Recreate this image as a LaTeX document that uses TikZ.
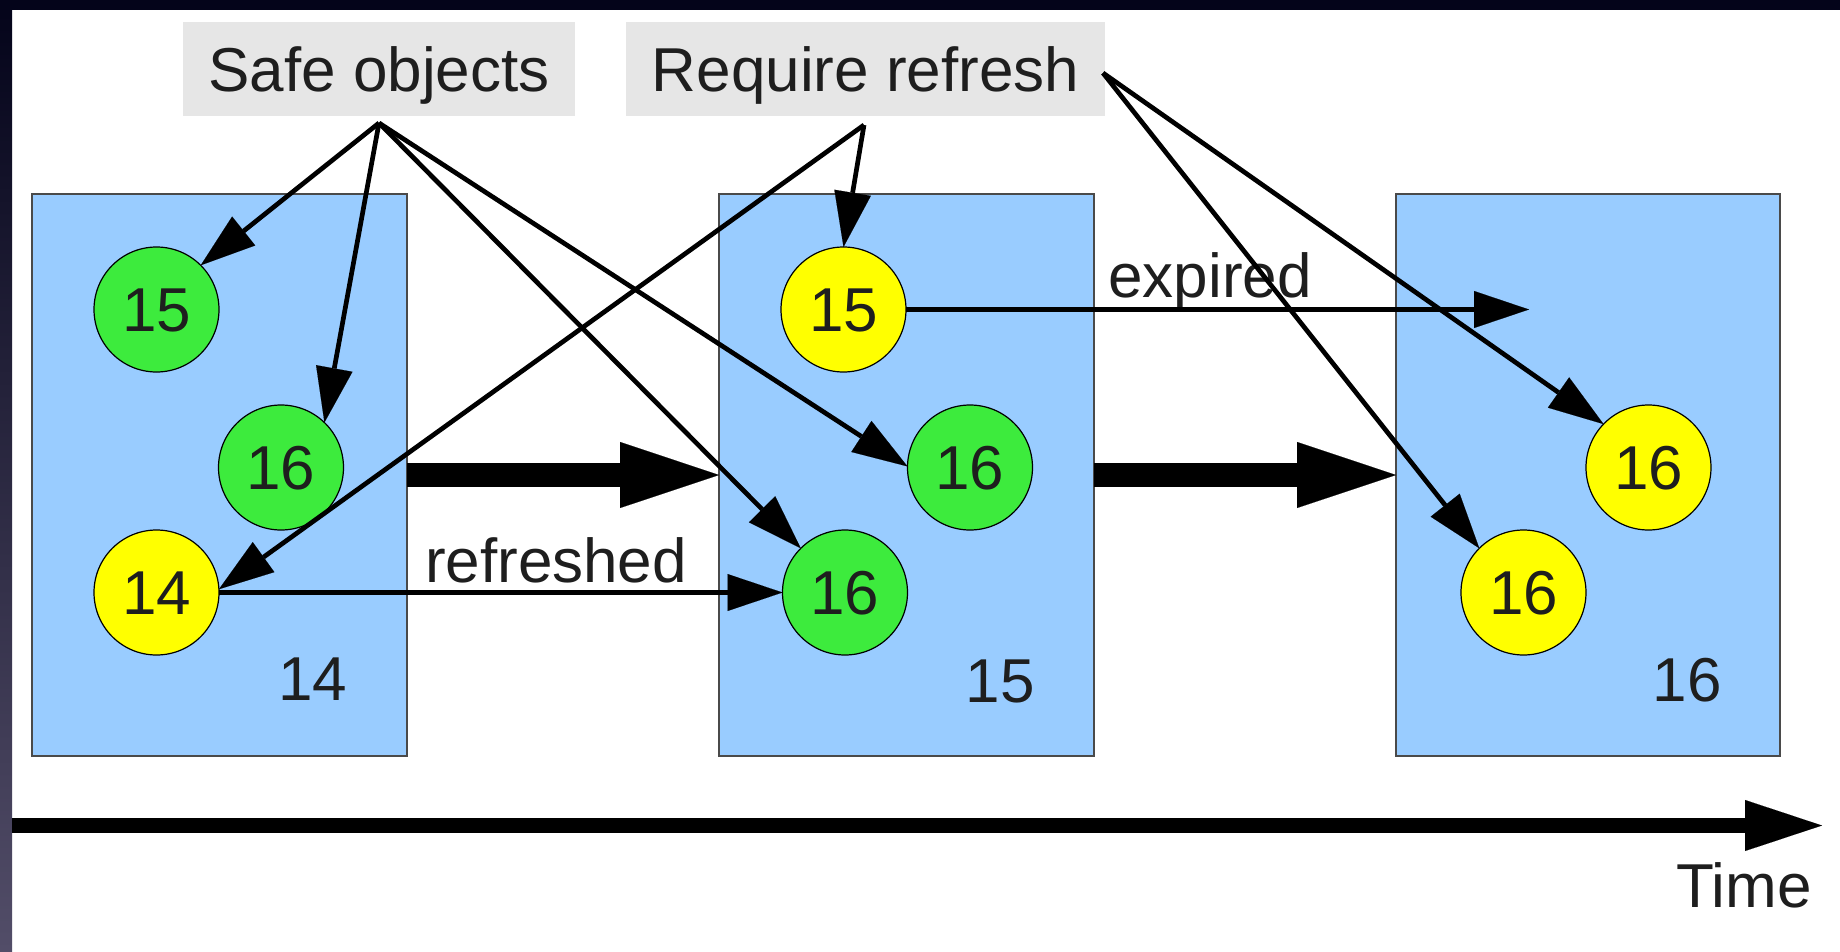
\documentclass[tikz,border=0pt]{standalone}
\usepackage{fontspec}
\setmainfont{Liberation Sans}
\usetikzlibrary{arrows.meta}
\definecolor{boxgray}{HTML}{E6E6E6}
\definecolor{rectblue}{HTML}{99CCFF}
\definecolor{objgreen}{HTML}{3DEB3D}
\definecolor{objyellow}{HTML}{FFFF00}
\definecolor{txt}{HTML}{1E1E1E}
\definecolor{frametop}{HTML}{04041A}
\definecolor{framebot}{HTML}{524D68}
\definecolor{rectline}{HTML}{4A4A4A}
\begin{document}
\begin{tikzpicture}[x=1pt,y=-1pt,
  every node/.style={font=\fontsize{62}{70}\selectfont, text=txt, inner sep=0pt, outer sep=0pt, text height=44pt, text depth=0pt},
  titlebox/.style={fill=boxgray, minimum height=94pt},
  epoch/.style={fill=rectblue, draw=rectline, line width=1.2pt, minimum height=562pt},
  obj/.style={circle, draw=black, line width=1.2pt, minimum size=125pt},
  tag/.style={anchor=base},
  thinarrow/.style={draw=black, line width=4.7pt, -{Triangle[length=55pt,width=37pt,line width=0.1pt]}},
  bigarrow/.style={draw=black, line width=24pt, -{Triangle[length=99pt,width=66pt,line width=0.1pt]}},
  timearrow/.style={draw=black, line width=15pt, -{Triangle[length=77pt,width=51pt,line width=0.1pt]}}
]
% canvas
\path[use as bounding box] (0,0) rectangle (1840,951);
\fill[white] (0,0) rectangle (1840,951);
\shade[top color=frametop, bottom color=framebot] (0,0) rectangle (12,951);
\fill[frametop] (0,0) rectangle (1840,10);

% title boxes
\node[titlebox, minimum width=392pt] (safe) at (379,69) {Safe objects};
\node[titlebox, minimum width=479pt] (req) at (865.5,69) {Require refresh};
\coordinate (safeS) at (379,123);
\coordinate (reqS) at (864,125);
\coordinate (reqE) at (1103,73);

% epoch rectangles
\node[epoch, minimum width=375pt] (r1) at (219.5,475) {};
\node[epoch, minimum width=375pt] (r2) at (906.5,475) {};
\node[epoch, minimum width=384pt] (r3) at (1588,475) {};

\node[tag] (l14) at (312.5,700) {14};
\node[tag] (l15) at (1000,702) {15};
\node[tag] (l16) at (1687,701) {16};

% objects
\node[obj, fill=objgreen]  (a15) at (156.5,309.5) {15};
\node[obj, fill=objgreen]  (a16) at (281,467.5) {16};
\node[obj, fill=objyellow] (a14) at (156.5,592.5) {14};
\node[obj, fill=objyellow] (b15) at (843.5,309.5) {15};
\node[obj, fill=objgreen]  (b16m) at (970,467.5) {16};
\node[obj, fill=objgreen]  (b16b) at (845,592.5) {16};
\node[obj, fill=objyellow] (c16m) at (1648.5,467.5) {16};
\node[obj, fill=objyellow] (c16b) at (1523.5,592.5) {16};

% labels
\node[tag] (refr) at (556,582) {refreshed};
\node[tag] (expd) at (1210,297) {expired};
\node[tag] (time) at (1744,907) {Time};

% big arrows
\draw[bigarrow] (r1.east) -- (r2.west);
\draw[bigarrow] (r2.east) -- (r3.west);
\coordinate (tstart) at (12,825.5);
\coordinate (tend) at (1822,825.5);
\draw[timearrow] (tstart) -- (tend);

% horizontal transitions
\draw[thinarrow] (a14.east) -- (b16b.west);
\coordinate (expEnd) at (1529,309.5);
\draw[thinarrow] (b15.east) -- (expEnd);

% pointers from the title boxes
\draw[thinarrow] (safeS) -- (a15.45);
\draw[thinarrow] (safeS) -- (a16.46);
\draw[thinarrow] (safeS) -- (b16b.135);
\draw[thinarrow] (safeS) -- (b16m.179);
\draw[thinarrow] (reqS) -- (b15.90);
\draw[thinarrow] (reqS) -- (a14.3);
\draw[thinarrow] (reqE) -- (c16m.136);
\draw[thinarrow] (reqE) -- (c16b.135);
\end{tikzpicture}
\end{document}
